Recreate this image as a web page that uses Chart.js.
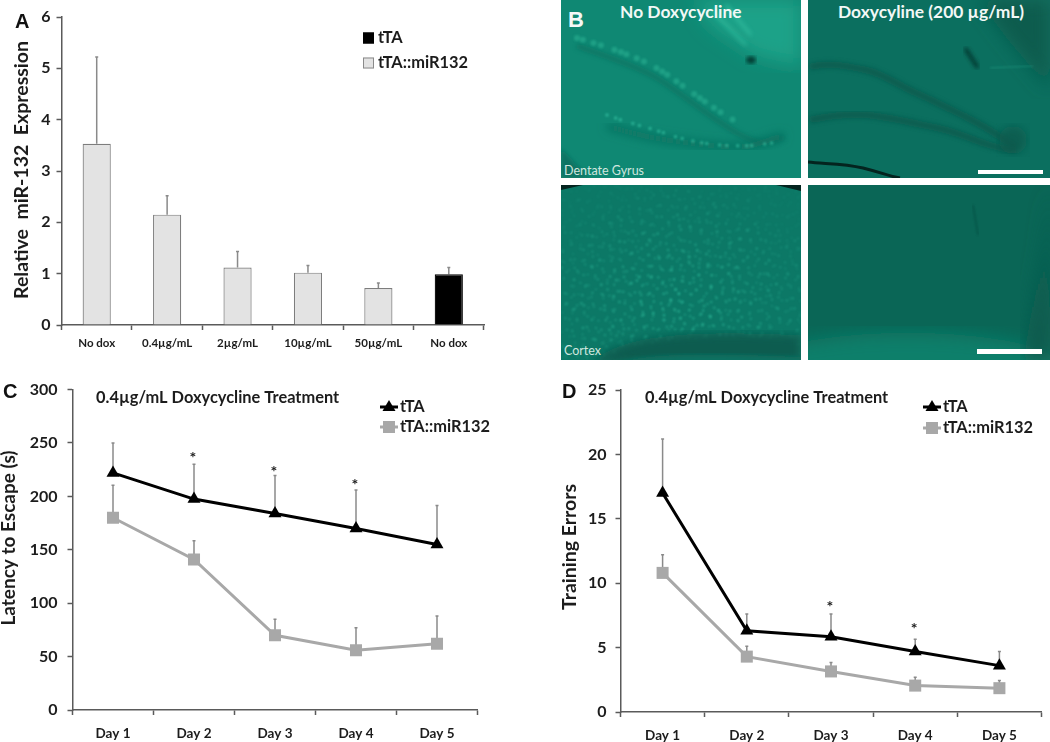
<!DOCTYPE html>
<html>
<head>
<meta charset="utf-8">
<title>miR-132 doxycycline figure</title>
<script src="https://cdn.jsdelivr.net/npm/chart.js@4"></script>
<style>
  html, body { margin: 0; padding: 0; background: #fff; }
  #page { position: relative; width: 1050px; height: 742px; overflow: hidden; font-family: Lato, sans-serif; }
  #page canvas { position: absolute; }
  .letter { position: absolute; font: bold 20px "Liberation Sans", sans-serif; color: #111; line-height: 1; }
  .panel { position: absolute; overflow: hidden; }
  .panel svg { position: absolute; left: 0; top: 0; }
  .head { position: absolute; top: 2px; font: bold 17.4px Lato, sans-serif; color: #f2f8f6; line-height: 20px; white-space: nowrap; }
  .tag { position: absolute; font: 12.5px Lato, sans-serif; color: #cfe6df; line-height: 14px; }
  .bar { position: absolute; background: #fff; }
</style>
</head>
<body>
<div id="page">
  <canvas id="chartA" width="550" height="370" style="left:0;top:0"></canvas>
  <canvas id="chartC" width="530" height="372" style="left:0;top:370px"></canvas>
  <canvas id="chartD" width="520" height="372" style="left:530px;top:370px"></canvas>

  <!-- panel B, micrographs only, no data in here -->
  <div class="panel" style="left:561px;top:0;width:240px;height:178px;background:#0f8873">
    <svg width="240" height="178">
      <defs>
        <filter id="b1"><feGaussianBlur stdDeviation="0.8"/></filter>
        <filter id="b2"><feGaussianBlur stdDeviation="2"/></filter>
        <filter id="b5"><feGaussianBlur stdDeviation="5"/></filter>
        <filter id="b9"><feGaussianBlur stdDeviation="9"/></filter>
      </defs>
      <path d="M133 0 L240 0 L240 66 L195 56 L150 26Z" fill="#1da288" filter="url(#b9)"/>
      <path d="M150 10 L185 45 M165 5 L190 35" stroke="#3fcfae" stroke-width="3" opacity=".5" filter="url(#b2)"/>
      <path d="M16 46 C50 58 80 68 99 80 S150 118 176 133 S210 142 223 137" fill="none" stroke="#0b6f5e" stroke-width="6" filter="url(#b2)" opacity=".6"/>
      <path d="M46 126 C70 133 90 138 106 140 S170 150 189 146 S215 135 223 137" fill="none" stroke="#0b6f5e" stroke-width="7" filter="url(#b5)"/>
      <path d="M16 38 C50 48 80 58 99 70 S150 108 176 122" fill="none" stroke="#2db898" stroke-width="6" stroke-linecap="round" stroke-dasharray="0 6 0 11 0 8 0 14 0 7" filter="url(#b1)" opacity=".5"/>
      <path d="M46 115 C70 124 90 128 106 134 S170 152 215 142" fill="none" stroke="#3fd3b0" stroke-width="3.5" stroke-linecap="round" stroke-dasharray="0 9 0 5 0 13 0 7 0 11" opacity=".55" filter="url(#b1)"/>
      <path d="M0 148 L28 178 L0 178Z" fill="#0b7363" filter="url(#b2)"/>
      <ellipse cx="190" cy="60" rx="5" ry="3.5" fill="#04332a" filter="url(#b2)"/>
    </svg>
  </div>
  <div class="panel" style="left:808px;top:0;width:242px;height:178px;background:#0b6f5f">
    <svg width="242" height="178">
      <path d="M170 0 L242 0 L242 90 L200 40Z" fill="#095b4e" filter="url(#b9)"/>
      <path d="M2 67 C20 62 40 66 58 70 S90 85 108 93 S140 108 158 117 S190 135 208 147" fill="none" stroke="#095a4d" stroke-width="7" filter="url(#b2)" opacity=".8"/>
      <path d="M2 120 C20 116 40 114 58 115 S100 122 125 127 S160 138 175 143 S200 150 208 150" fill="none" stroke="#095a4d" stroke-width="7" filter="url(#b2)" opacity=".8"/>
      <ellipse cx="205" cy="140" rx="14" ry="14" fill="#095a4d" filter="url(#b5)" opacity=".8"/>
      <path d="M157 48 L170 68" stroke="#05332b" stroke-width="3.5" filter="url(#b2)"/>
      <path d="M182 68 L225 66" stroke="#2db094" stroke-width="1" opacity=".5" filter="url(#b1)"/>
      <path d="M0 162 C15 164 35 163 55 168 S80 176 92 178" fill="none" stroke="#04241f" stroke-width="3"/>
    </svg>
  </div>
  <div class="panel" style="left:561px;top:185px;width:240px;height:175px;background:#0c7866">
    <svg width="240" height="175">
      <defs>
        <!-- hand placed speckle tile, rotated twice so no lattice shows -->
        <g id="spk" fill="#36d0ac">
          <circle cx="3" cy="4" r="1.1"/><circle cx="12" cy="2" r=".9"/><circle cx="22" cy="7" r="1.2"/>
          <circle cx="33" cy="3" r=".9"/><circle cx="8" cy="13" r="1"/><circle cx="17" cy="16" r="1.3"/>
          <circle cx="28" cy="14" r=".9"/><circle cx="38" cy="18" r="1.1"/><circle cx="2" cy="24" r=".9"/>
          <circle cx="13" cy="27" r="1"/><circle cx="24" cy="23" r=".9"/><circle cx="33" cy="29" r="1.2"/>
          <circle cx="6" cy="35" r="1.2"/><circle cx="19" cy="37" r=".9"/><circle cx="28" cy="40" r="1"/>
          <circle cx="39" cy="38" r=".9"/>
        </g>
        <pattern id="d1" width="43" height="47" patternUnits="userSpaceOnUse" patternTransform="rotate(23)"><use href="#spk"/></pattern>
        <pattern id="d2" width="41" height="44" patternUnits="userSpaceOnUse" patternTransform="rotate(-38) translate(9 5)"><use href="#spk"/></pattern>
        <pattern id="d3" width="47" height="43" patternUnits="userSpaceOnUse" patternTransform="rotate(71) translate(3 17)"><use href="#spk"/></pattern>
        <radialGradient id="fade" cx=".48" cy=".66" r=".68"><stop offset="0" stop-color="#ddd"/><stop offset=".6" stop-color="#777"/><stop offset="1" stop-color="#222"/></radialGradient>
        <mask id="m1"><rect width="240" height="175" fill="url(#fade)"/></mask>
      </defs>
      <g mask="url(#m1)" filter="url(#b1)">
        <rect width="240" height="175" fill="url(#d1)"/>
        <rect width="240" height="175" fill="url(#d2)" opacity=".8"/>
        <rect width="240" height="175" fill="url(#d3)" opacity=".6"/>
      </g>
      <path d="M30 178 C60 150 120 145 240 150 L240 178Z" fill="#0a5c4f" filter="url(#b5)"/>
      <path d="M50 180 C80 170 120 167 240 172 L240 182 L50 182Z" fill="#0c7060" filter="url(#b2)"/>
      <path d="M0 0 L22 0 L0 5Z M215 0 L240 0 L240 6Z" fill="#04241f"/>
    </svg>
  </div>
  <div class="panel" style="left:808px;top:185px;width:242px;height:175px;background:#0a6656">
    <svg width="242" height="175">
      <ellipse cx="100" cy="180" rx="150" ry="32" fill="#0d7f6b" filter="url(#b9)"/>
      <path d="M165 20 L170 50" stroke="#06463b" stroke-width="1.2" filter="url(#b1)" opacity=".7"/>
      <path d="M242 0 L242 175 L215 175 L235 60Z" fill="#095a4d" filter="url(#b9)"/>
    </svg>
  </div>
  <div class="letter" style="left:568px;top:9px;font-size:22px;color:#f4f8f7">B</div>
  <div class="head" style="left:620px">No Doxycycline</div>
  <div class="head" style="left:838px">Doxycyline (200 µg/mL)</div>
  <div class="tag" style="left:564px;top:164px">Dentate Gyrus</div>
  <div class="tag" style="left:564px;top:344px">Cortex</div>
  <div class="bar" style="left:978px;top:170px;width:65px;height:4px"></div>
  <div class="bar" style="left:977px;top:349px;width:65px;height:5px"></div>

  <div class="letter" style="left:15px;top:11px">A</div>
  <div class="letter" style="left:3px;top:381px">C</div>
  <div class="letter" style="left:562px;top:381px">D</div>
</div>

<script>
// panel A
const doseLabels = ["No dox", "0.4µg/mL", "2µg/mL", "10µg/mL", "50µg/mL", "No dox"];
const expression = [3.53, 2.15, 1.12, 1.02, 0.72, 0.99];
const expressionTop = [5.22, 2.52, 1.43, 1.16, 0.82, 1.12];
const expressionTicks = [0, 1, 2, 3, 4, 5, 6];

// panels C and D
const days = ["Day 1", "Day 2", "Day 3", "Day 4", "Day 5"];
const latencyTta = [222, 197.5, 184, 170, 155];
const latencyTtaTop = [250, 230, 219.5, 206, 191.5];
const latencyMir = [180, 141, 70, 56, 62];
const latencyMirTop = [210.5, 158.5, 85, 77, 88];
const latencyStars = [null, 238, 225, 213, null];
const latencyTicks = [0, 50, 100, 150, 200, 250, 300];

const errorsTta = [17, 6.3, 5.85, 4.7, 3.6];
const errorsTtaTop = [21.2, 7.6, 7.6, 5.65, 4.7];
const errorsMir = [10.8, 4.3, 3.15, 2.05, 1.85];
const errorsMirTop = [12.2, 5.1, 3.85, 2.7, 2.45];
const errorsStars = [null, null, 8.3, 6.6, null];
const errorsTicks = [0, 5, 10, 15, 20, 25];

const seriesNames = ["tTA", "tTA::miR132"];
const treatment = "0.4µg/mL Doxycycline Treatment";

const FONT = "Lato, sans-serif";
const INK = "#1c1c1c";
const AXIS = "#5a5a5a";
const WHISKER = "#8a8a8a";
const MIR_FILL = "#e3e3e3";
const MIR_LINE = "#a8a8a8";

Chart.defaults.animation = false;
Chart.defaults.responsive = false;
Chart.defaults.font.family = FONT;
Chart.defaults.color = INK;

// whiskers go up only, and sit under the markers
const whiskers = {
  id: "whiskers",
  beforeDatasetsDraw(chart, args, opts) {
    const ctx = chart.ctx, x = chart.scales.x, y = chart.scales.y;
    ctx.save();
    ctx.strokeStyle = WHISKER;
    ctx.lineWidth = 1.5;
    (opts.sets || []).forEach(set => {
      set.tops.forEach((top, i) => {
        const px = x.getPixelForValue(i);
        ctx.beginPath();
        ctx.moveTo(px, y.getPixelForValue(set.values[i]));
        ctx.lineTo(px, y.getPixelForValue(top));
        ctx.moveTo(px - 1.5, y.getPixelForValue(top));
        ctx.lineTo(px + 1.5, y.getPixelForValue(top));
        ctx.stroke();
      });
    });
    ctx.restore();
  }
};

// y titles are off centre in the figure, so they are placed here and not by the scale
const notes = {
  id: "notes",
  afterDraw(chart, args, opts) {
    const ctx = chart.ctx, x = chart.scales.x, y = chart.scales.y;
    ctx.save();
    ctx.fillStyle = INK;
    ctx.textBaseline = "middle";
    if (opts.yTitle) {
      ctx.save();
      ctx.translate(opts.yTitleX, opts.yTitleY);
      ctx.rotate(-Math.PI / 2);
      ctx.textAlign = "center";
      ctx.font = "bold " + opts.yTitleSize + "px " + FONT;
      ctx.fillText(opts.yTitle, 0, 0);
      ctx.restore();
    }
    if (opts.title) {
      ctx.font = "bold 16.4px " + FONT;
      ctx.fillText(opts.title, opts.titleX, opts.titleY);
    }
    (opts.stars || []).forEach((v, i) => {
      if (v === null) return;
      ctx.font = "bold 16px " + FONT;
      ctx.textAlign = "center";
      ctx.fillText("*", x.getPixelForValue(i) - 1, y.getPixelForValue(v) + 2);
    });
    ctx.textAlign = "left";
    ctx.font = "bold 16.4px " + FONT;
    (opts.legend || []).forEach(item => {
      if (item.box) {
        ctx.fillStyle = item.box;
        ctx.strokeStyle = item.edge;
        ctx.fillRect(item.x, item.y - 5.5, 11, 11);
        ctx.strokeRect(item.x + .5, item.y - 5, 10, 10);
        ctx.fillStyle = INK;
        ctx.fillText(item.text, item.x + 15, item.y);
      } else {
        ctx.strokeStyle = item.color;
        ctx.lineWidth = 3;
        ctx.beginPath();
        ctx.moveTo(item.x, item.y);
        ctx.lineTo(item.x + 18, item.y);
        ctx.stroke();
        ctx.fillStyle = item.color;
        ctx.beginPath();
        if (item.marker === "triangle") {
          ctx.moveTo(item.x + 9, item.y - 7);
          ctx.lineTo(item.x + 15.5, item.y + 4);
          ctx.lineTo(item.x + 2.5, item.y + 4);
        } else {
          ctx.rect(item.x + 3, item.y - 6, 12, 12);
        }
        ctx.fill();
        ctx.fillStyle = INK;
        ctx.fillText(item.text, item.x + 20, item.y);
      }
    });
    ctx.restore();
  }
};

// fixes the plot box so the axes land where the figure has them
function axes(xLabelSize, xPad, tickValues, maxY, yPad, leftWidth, bottomHeight) {
  return {
    x: {
      offset: true,
      border: { color: AXIS, width: 1.5 },
      grid: { display: true, drawOnChartArea: false, offset: true, color: AXIS, tickLength: 5, tickWidth: 1.5 },
      ticks: { font: { size: xLabelSize, weight: "bold" }, color: INK, padding: xPad, maxRotation: 0, autoSkip: false },
      afterFit(s) { s.height = bottomHeight; }
    },
    y: {
      min: 0,
      max: maxY,
      afterBuildTicks(s) { s.ticks = tickValues.map(v => ({ value: v })); },
      border: { color: AXIS, width: 1.5 },
      grid: { display: true, drawOnChartArea: false, color: AXIS, tickLength: 5, tickWidth: 1.5 },
      ticks: { font: { size: 16, weight: "bold" }, color: INK, padding: yPad },
      afterFit(s) { s.width = leftWidth; }
    }
  };
}

function lineData(a, b) {
  return {
    labels: days,
    datasets: [
      { label: seriesNames[1], data: b, borderColor: MIR_LINE, backgroundColor: MIR_LINE, borderWidth: 3,
        pointStyle: "rect", pointRadius: 8.5, pointBorderWidth: 0, tension: 0 },
      { label: seriesNames[0], data: a, borderColor: "#000", backgroundColor: "#000", borderWidth: 3,
        pointStyle: "triangle", pointRadius: 7.5, pointBorderWidth: 0, tension: 0 }
    ]
  };
}

new Chart(document.getElementById("chartA"), {
  type: "bar",
  data: {
    labels: doseLabels,
    datasets: [{
      label: "Relative miR-132 Expression",
      data: expression,
      backgroundColor: doseLabels.map((d, i) => i === doseLabels.length - 1 ? "#000" : MIR_FILL),
      borderColor: doseLabels.map((d, i) => i === doseLabels.length - 1 ? "#000" : "#7d7d7d"),
      borderWidth: 1.2,
      barPercentage: 0.4,
      categoryPercentage: 1
    }]
  },
  options: {
    layout: { padding: { top: 17, right: 66, bottom: 0, left: 0 } },
    scales: axes(11.5, 6, expressionTicks, 6, 6, 61.5, 45),
    plugins: {
      legend: { display: false },
      tooltip: { enabled: false },
      whiskers: { sets: [{ values: expression, tops: expressionTop }] },
      notes: {
        yTitle: "Relative  miR-132  Expression", yTitleX: 22, yTitleY: 170, yTitleSize: 19.5,
        legend: [
          { box: "#000", edge: "#000", text: seriesNames[0], x: 363, y: 38 },
          { box: MIR_FILL, edge: "#8a8a8a", text: seriesNames[1], x: 363, y: 63 }
        ]
      }
    }
  },
  plugins: [whiskers, notes]
});

new Chart(document.getElementById("chartC"), {
  type: "line",
  data: lineData(latencyTta, latencyMir),
  options: {
    layout: { padding: { top: 18.5, right: 52.5, bottom: 0, left: 0 } },
    scales: axes(13.5, 11, latencyTicks, 300, 10, 72.5, 32),
    plugins: {
      legend: { display: false },
      tooltip: { enabled: false },
      whiskers: { sets: [{ values: latencyTta, tops: latencyTtaTop }, { values: latencyMir, tops: latencyMirTop }] },
      notes: {
        yTitle: "Latency to Escape (s)", yTitleX: 9, yTitleY: 168, yTitleSize: 19,
        title: treatment, titleX: 96, titleY: 28, stars: latencyStars,
        legend: [
          { marker: "triangle", color: "#000", text: seriesNames[0], x: 380, y: 37 },
          { marker: "rect", color: MIR_LINE, text: seriesNames[1], x: 380, y: 57 }
        ]
      }
    }
  },
  plugins: [whiskers, notes]
});

new Chart(document.getElementById("chartD"), {
  type: "line",
  data: lineData(errorsTta, errorsMir),
  options: {
    layout: { padding: { top: 20, right: 5, bottom: 0, left: 0 } },
    scales: axes(13.5, 11, errorsTicks, 25, 9, 90.5, 30),
    plugins: {
      legend: { display: false },
      tooltip: { enabled: false },
      whiskers: { sets: [{ values: errorsTta, tops: errorsTtaTop }, { values: errorsMir, tops: errorsMirTop }] },
      notes: {
        yTitle: "Training Errors", yTitleX: 40, yTitleY: 177, yTitleSize: 19.5,
        title: treatment, titleX: 115, titleY: 28, stars: errorsStars,
        legend: [
          { marker: "triangle", color: "#000", text: seriesNames[0], x: 393, y: 37 },
          { marker: "rect", color: MIR_LINE, text: seriesNames[1], x: 393, y: 58 }
        ]
      }
    }
  },
  plugins: [whiskers, notes]
});
</script>
</body>
</html>
